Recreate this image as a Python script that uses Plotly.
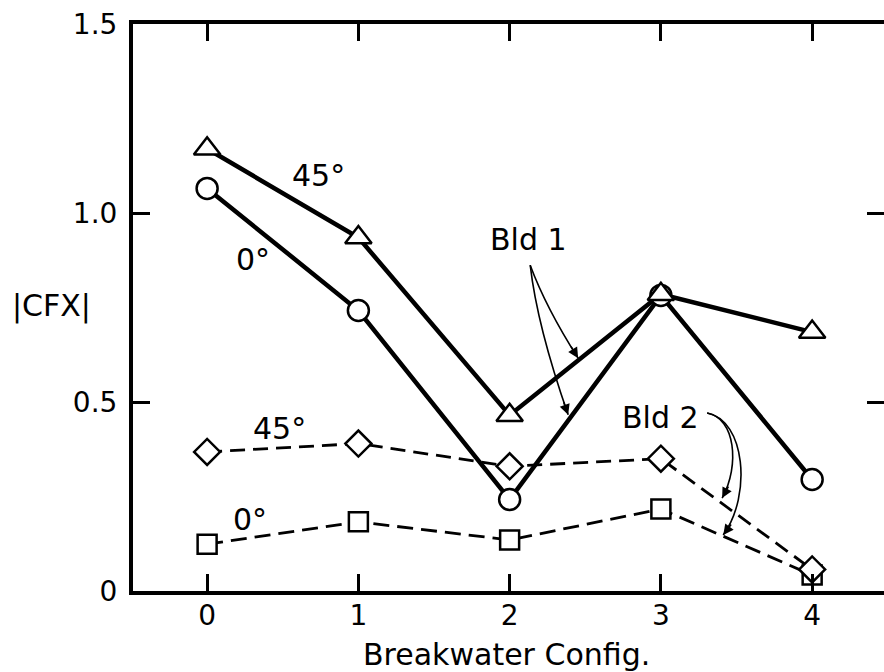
import plotly.graph_objects as go

# Breakwater configurations on the x axis
configs = [0, 1, 2, 3, 4]

# |CFX| for building 1 (solid lines) and building 2 (dashed lines)
bld1_45 = [1.17, 0.935, 0.465, 0.785, 0.685]
bld1_0 = [1.065, 0.742, 0.242, 0.782, 0.295]
bld2_45 = [0.368, 0.39, 0.33, 0.35, 0.057]
bld2_0 = [0.124, 0.183, 0.135, 0.217, 0.042]

y_ticks = [0, 0.5, 1.0, 1.5]
y_tick_text = ["0", "0.5", "1.0", "1.5"]

FONT = "DejaVu Sans"
INK = "black"
LABEL_SIZE = 30

fig = go.Figure()


def add_series(y, symbol, size, width, dash):
    fig.add_trace(go.Scatter(
        x=configs, y=y, mode="lines",
        line=dict(color=INK, width=width, dash=dash),
        showlegend=False, cliponaxis=False, hoverinfo="skip",
    ))
    return (y, symbol, size)


markers = [
    add_series(bld2_0, "square", 19, 2.8, "16px,8px"),
    add_series(bld2_45, "diamond", 20, 2.8, "15px,8px"),
    add_series(bld1_0, "circle", 21, 4.5, "solid"),
    add_series(bld1_45, "triangle-up", 23, 4.5, "solid"),
]

# open markers with white interiors drawn over the lines
for y, sym, size in markers:
    fig.add_trace(go.Scatter(
        x=configs, y=y, mode="markers",
        marker=dict(symbol=sym, size=size, color="white",
                    line=dict(color=INK, width=2.5)),
        showlegend=False, cliponaxis=False,
    ))

# a second y axis only to carry the inward ticks on the right side
fig.add_trace(go.Scatter(x=[None], y=[None], yaxis="y2", showlegend=False))

# text labels on the curves
labels = [
    ("45°", 0.734, 1.098),
    ("0°", 0.304, 0.878),
    ("45°", 0.476, 0.429),
    ("0°", 0.284, 0.188),
    ("Bld 1", 2.122, 0.931),
    ("Bld 2", 2.995, 0.458),
]
for text, x, y in labels:
    fig.add_annotation(x=x, y=y, text=text, showarrow=False,
                       font=dict(family=FONT, size=LABEL_SIZE, color=INK))

# curved leader lines from the building labels to their curves
leaders = [
    "M 2.136 0.862 Q 2.241 0.749 2.453 0.616",
    "M 2.136 0.862 Q 2.182 0.701 2.387 0.466",
    "M 3.306 0.471 C 3.491 0.458 3.524 0.333 3.405 0.246",
    "M 3.306 0.471 C 3.557 0.452 3.603 0.254 3.412 0.148",
]
for p in leaders:
    fig.add_shape(type="path", path=p, xref="x", yref="y",
                  line=dict(color=INK, width=1.6))

# arrowheads at the leader tips
for x, y, ax, ay in [(2.453, 0.616, -8, -13), (2.387, 0.466, -5, -14),
                     (3.405, 0.246, 7, -13), (3.412, 0.148, 9, -12)]:
    fig.add_annotation(x=x, y=y, ax=ax, ay=ay, text="", showarrow=True,
                       arrowhead=2, arrowsize=1.3, arrowwidth=1.6,
                       arrowcolor=INK)

fig.add_annotation(text="|CFX|", xref="paper", yref="paper",
                   x=-0.108, y=0.502, xanchor="center", yanchor="middle",
                   showarrow=False,
                   font=dict(family=FONT, size=LABEL_SIZE, color=INK))
fig.add_annotation(text="Breakwater Config.", xref="paper", yref="paper",
                   x=0.497, y=-0.112, xanchor="center", yanchor="middle",
                   showarrow=False,
                   font=dict(family=FONT, size=LABEL_SIZE, color=INK))

fig.update_layout(
    width=884, height=672,
    margin=dict(l=133, r=0, t=24, b=81),
    plot_bgcolor="white", paper_bgcolor="white",
    font=dict(family=FONT, size=28, color=INK),
    xaxis=dict(
        range=[-0.49, 4.475], tickvals=configs, ticktext=[str(c) for c in configs],
        ticks="inside", ticklen=17, tickwidth=3, tickcolor=INK,
        showline=True, linewidth=4, linecolor=INK, mirror="ticks",
        showgrid=False, zeroline=False, ticklabelstandoff=-4,
    ),
    yaxis=dict(
        range=[0, 1.5], tickvals=y_ticks, ticktext=y_tick_text,
        ticks="inside", ticklen=17, tickwidth=3, tickcolor=INK,
        showline=True, linewidth=4, linecolor=INK,
        showgrid=False, zeroline=False, ticklabelstandoff=6,
    ),
    yaxis2=dict(
        range=[0, 1.5], tickvals=y_ticks, overlaying="y", side="right",
        ticks="inside", ticklen=17, tickwidth=3, tickcolor=INK,
        showline=False, showticklabels=False, showgrid=False, zeroline=False,
    ),
)

fig.write_html("out.html")
